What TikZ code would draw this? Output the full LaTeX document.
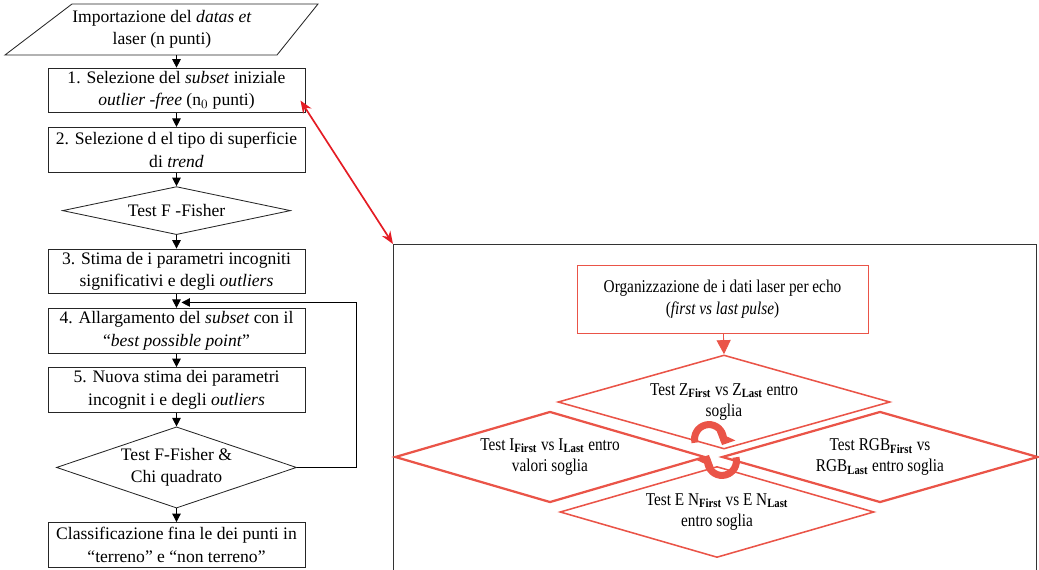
\documentclass[tikz,border=0pt]{standalone}
\usepackage{fontspec}
\setmainfont{Liberation Serif}
\newfontfamily\narrowserif{Liberation Serif}[FakeStretch=0.85]
\usetikzlibrary{shapes.geometric,arrows.meta,positioning,calc}
\definecolor{echored}{RGB}{234,84,72}
\definecolor{linkred}{RGB}{228,28,36}
\newcommand{\leftfont}{\fontsize{12.5}{16}\selectfont}
\newcommand{\rightfont}{\narrowserif\fontsize{12.8}{15.5}\selectfont}
\newcommand{\lsub}[1]{\textsubscript{\bfseries #1}}

\tikzset{
  stepbox/.style={draw=black!85, line width=0.6pt, minimum width=6.425cm,
    minimum height=1.12cm, align=center, font=\leftfont, inner sep=1pt},
  testdia/.style={diamond, draw=black!85, line width=0.6pt, align=center,
    inner sep=0pt, font=\leftfont},
  arr/.style={-{Triangle[length=6pt,width=6pt]}, black, line width=0.6pt},
  echodia/.style={diamond, draw=echored, align=center, inner sep=0pt,
    shape aspect=3.4, font=\rightfont},
  echoarr/.style={-{Triangle[length=10pt,width=10pt]}, echored, line width=0.6pt},
  cyc/.style={-{Triangle[length=7pt,width=14pt]}, echored, line width=5pt},
  linkarr/.style={{Stealth[length=9pt,width=7pt]}-{Stealth[length=9pt,width=7pt]},
    linkred, line width=1.2pt}
}

\begin{document}
\begin{tikzpicture}[x=0.025cm, y=-0.025cm, node distance=0.34cm]
\useasboundingbox (0,0) rectangle (1039,570);

% ================= LEFT: PROCEDURE =================
\node[font=\leftfont, align=center, minimum height=1.275cm, inner sep=0pt] (imp) at (162,29.5)
{Importazione del \textit{datas et}\\laser (n punti)};
\draw[black!85, line width=0.6pt] (5,55) -- (72,4) -- (318,4) -- (277,55) -- cycle;

\node[stepbox] (b1) at (176.5,90.5)
{1. Selezione del \textit{subset} iniziale\\\textit{outlier -free} (n$_0$ punti)};
\node[stepbox, below=of b1] (b2)
{2. Selezione d el tipo di superficie\\di \textit{trend}};
\node[testdia, shape aspect=4.75, minimum width=5.7cm, minimum height=1.2cm, below=of b2] (d1)
{Test F -Fisher};
\node[stepbox, below=of d1] (b3)
{3. Stima de i parametri incogniti\\significativi e degli \textit{outliers}};
\node[stepbox, below=of b3] (b4)
{4. Allargamento del \textit{subset} con il\\``\textit{best possible point}''};
\node[stepbox, below=of b4] (b5)
{5. Nuova stima dei parametri\\incognit i e degli \textit{outliers}};
\node[testdia, shape aspect=2.96, minimum width=6cm, minimum height=2.03cm, below=of b5] (d2)
{Test F-Fisher \&\\Chi quadrato};
\node[stepbox, below=of d2] (b6)
{Classificazione fina le dei punti in\\``terreno'' e ``non terreno''};

% --- flow arrows ---
\draw[arr] (imp.south -| b1.north) -- (b1.north);
\draw[arr] (b1) -- (b2);
\draw[arr] (b2) -- (d1);
\draw[arr] (d1) -- (b3);
\draw[arr] (b3) -- (b4);
\draw[arr] (b4) -- (b5);
\draw[arr] (b5) -- (d2);
\draw[arr] (d2) -- (b6);

% --- loop back ---
\draw[arr] (d2.east) -- ++(59,0) |- ($(b3.south)!0.6!(b4.north)+(5,0)$);

% ================= RIGHT: ECHO TESTS =================
\coordinate (fr) at (393,244);
\draw[black!80, line width=0.6pt] (393,570) |- (1036,244) -- (1036,570);

\node[draw=echored, line width=0.6pt, minimum width=7.275cm, minimum height=1.7cm,
  align=center, font=\rightfont] (org) at (722.5,299)
{Organizzazione de i dati laser per echo\\(\textit{first vs last pulse})};

\node[echodia, line width=1.1pt, minimum width=8.3cm, minimum height=2.35cm] (tz) at (724,402)
{Test Z\lsub{First} vs Z\lsub{Last} entro\\soglia};
\node[echodia, line width=1.6pt, minimum width=7.75cm, minimum height=2.275cm] (ti) at (550,457)
{Test I\lsub{First} vs I\lsub{Last} entro\\valori soglia};
\node[echodia, line width=1.6pt, minimum width=7.9cm, minimum height=2.275cm] (trgb) at (880,457)
{Test RGB\lsub{First} vs\\RGB\lsub{Last} entro soglia};
\node[echodia, line width=1.1pt, minimum width=7.85cm, minimum height=2.275cm] (ten) at (717,512)
{Test E N\lsub{First} vs E N\lsub{Last}\\entro soglia};

\draw[echoarr] (org) -- (tz.north);

% --- cycle arrows ---
\draw[cyc] (709,439) ++(195:0.36cm) arc[start angle=195, end angle=-25, radius=0.36cm];
\draw[cyc] (722,461) ++(15:0.36cm) arc[start angle=15, end angle=-205, radius=0.36cm];

% --- link to detail ---
\draw[linkarr] ([shift={(-5,10)}]b1.east) -- (fr);

\end{tikzpicture}
\end{document}
